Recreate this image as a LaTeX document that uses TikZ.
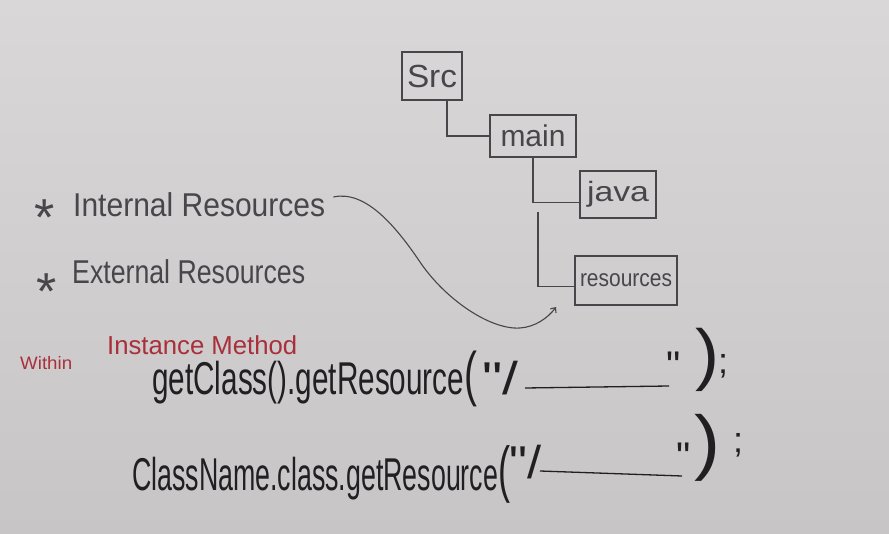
\documentclass[tikz,border=0pt]{standalone}
\usepackage{fontspec}
\usepackage{graphicx}
\setmainfont{Liberation Sans}
\usetikzlibrary{arrows.meta,calc}
\definecolor{boardtop}{RGB}{218,215,217}
\definecolor{boardbot}{RGB}{200,197,199}
\definecolor{ink}{RGB}{72,70,74}
\definecolor{darkink}{RGB}{32,31,34}
\definecolor{redink}{RGB}{168,48,58}
\newcommand{\fitw}[2]{\resizebox{#1}{\height}{#2}}
\newcommand{\fs}[1]{\fontsize{#1}{#1}\selectfont}
\begin{document}
\begin{tikzpicture}[x=1pt,y=-1pt,
  folder/.style={draw=ink,line width=1.3pt,rectangle,inner sep=0pt,text=ink},
  tree/.style={draw=ink,line width=1.3pt},
  label/.style={inner sep=0pt,text=ink},
  code/.style={inner sep=0pt,text=darkink},
  redlabel/.style={inner sep=0pt,text=redink}]
\shade[top color=boardtop,bottom color=boardbot] (0,0) rectangle (889,534);
\useasboundingbox (0,0) rectangle (889,534);

% folder tree
\node[folder,minimum width=60pt,minimum height=48pt] (src) at (432,76) {\fitw{50pt}{\fs{32}Src}};
\node[folder,minimum width=86pt,minimum height=42pt] (main) at (533,136) {\fitw{65pt}{\fs{30}main}};
\node[folder,minimum width=76pt,minimum height=47pt] (java) at (618,194.5) {\fitw{62pt}{\fs{28}java}};
\node[folder,minimum width=102pt,minimum height=49pt] (res) at (626,280.5) {\fitw{92pt}{\fs{24}resources}};
\coordinate (rstart) at (538,212);
\draw[tree] ([xshift=15pt]src.south) |- (main.west);
\draw[tree] (main.south) |- ([yshift=-8pt]java.west);
\draw[tree] (rstart) |- ([yshift=-6pt]res.west);

% resource kinds
\node[label,anchor=base] (star1) at (45,236) {\fs{52}*};
\node[label,anchor=base west] (ir) at (73,217) {\fitw{252pt}{\fs{33}Internal Resources}};
\node[label,anchor=base] (star2) at (47,310) {\fs{52}*};
\node[label,anchor=base west] (er) at (72,284) {\fitw{233pt}{\fs{33}External Resources}};

% arrow from Internal Resources to resources folder
\coordinate (cstart) at ([shift={(8pt,20pt)}]ir.base east);
\coordinate (arrend) at (556,307);
\draw[tree,line width=1.1pt,-{Straight Barb[length=4pt,width=7pt]}]
  (cstart) .. controls (365,190) and (395,225) .. (420,262)
  .. controls (445,299) and (490,330) .. (520,328)
  .. controls (535,327) and (548,318) .. (arrend);

% red heading
\node[redlabel,anchor=base west] (within) at (20,370) {\fitw{52pt}{\fs{18}Within}};
\node[redlabel,anchor=base west] (inst) at (107,355) {\fitw{190pt}{\fs{26}Instance Method}};

% code line 1
\node[code,anchor=base west] (c1) at (152,395) {\fitw{325pt}{\fs{46}getClass().getResource{\fs{60}(}}};
\node[code,anchor=base west] (c1q) at (482,395) {\fitw{36pt}{\fs{46}\textquotedbl/}};
\draw[darkink,line width=1.3pt] (525,388) -- (669,386);
\node[code,anchor=base west] (c1e) at (666,380) {\fs{40}\textquotedbl};
\node[code,anchor=base west] (c1p) at (695,378) {\fitw{24pt}{\fs{68})}};
\node[code,anchor=base west] (c1s) at (718,374) {\fs{36};};

% code line 2
\node[code,anchor=base west] (c2) at (132,490) {\fitw{378pt}{\fs{46}ClassName.class.getResource{\fs{62}(}}};
\node[code,anchor=base west] (c2q) at (509,478) {\fitw{32pt}{\fs{46}\textquotedbl/}};
\draw[darkink,line width=1.3pt] (540,471) -- (682,476);
\node[code,anchor=base west] (c2e) at (676,470) {\fs{40}\textquotedbl};
\node[code,anchor=base west] (c2p) at (694,466) {\fitw{26pt}{\fs{72})}};
\node[code,anchor=base west] (c2s) at (733,452) {\fs{36};};
\end{tikzpicture}
\end{document}
